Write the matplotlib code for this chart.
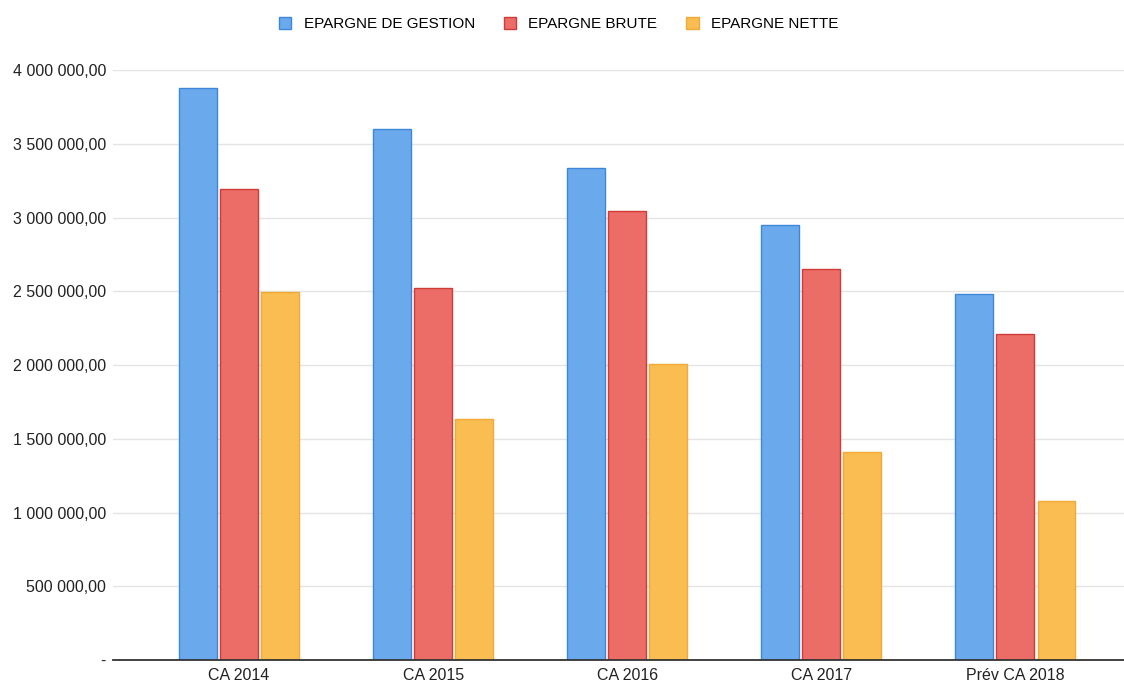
import numpy as np
import matplotlib
matplotlib.use("Agg")
import matplotlib.pyplot as plt
from matplotlib.ticker import FuncFormatter

# Data
categories = ["CA 2014", "CA 2015", "CA 2016", "CA 2017", "Prév CA 2018"]
epargne_gestion = [3878000, 3600000, 3336000, 2949000, 2482000]
epargne_brute = [3193000, 2522000, 3044000, 2651000, 2210000]
epargne_nette = [2495000, 1634000, 2007000, 1410000, 1078000]

series_names = ["EPARGNE DE GESTION", "EPARGNE BRUTE", "EPARGNE NETTE"]
face_colors = ["#6aaaec", "#ec6d67", "#f9bd52"]
edge_colors = ["#3d86d8", "#cf3b35", "#f0aa35"]

plt.rcParams["font.family"] = ["Liberation Sans", "DejaVu Sans"]

fig = plt.figure(figsize=(11.24, 6.86), dpi=100)
ax = fig.add_axes([0.1005, 0.0379, 0.8995, 0.86])

x = np.arange(len(categories))
width = 0.195
step = 0.212
for i, (vals, name) in enumerate(zip([epargne_gestion, epargne_brute, epargne_nette], series_names)):
    ax.bar(x + (i - 1) * step, vals, width, color=face_colors[i],
           edgecolor=edge_colors[i], linewidth=1.0, label=name, zorder=3)


def fmt(v, pos):
    if v == 0:
        return "-"
    return f"{v:,.2f}".replace(",", " ").replace(".", ",")


ax.set_ylim(0, 4000000)
ax.set_yticks(np.arange(0, 4000001, 500000))
ax.yaxis.set_major_formatter(FuncFormatter(fmt))
ax.set_xlim(-0.65, 4.56)
ax.set_xticks(x)
ax.set_xticklabels(categories)

ax.grid(axis="y", color="#e4e4e4", linewidth=1.0, zorder=0)
for side in ["top", "right", "left"]:
    ax.spines[side].set_visible(False)
ax.spines["bottom"].set_color("#333333")
ax.spines["bottom"].set_linewidth(1.3)
ax.spines["bottom"].set_zorder(4)
ax.tick_params(axis="both", length=0, labelsize=11.5, colors="#222222")
ax.tick_params(axis="x", pad=6)
ax.tick_params(axis="y", pad=5)

fig.legend(loc="upper center", bbox_to_anchor=(0.497, 0.995), ncol=3, frameon=False,
           fontsize=11, handlelength=0.8, handleheight=0.8, columnspacing=1.9,
           handletextpad=0.8)

fig.savefig("out.png", dpi=100)
